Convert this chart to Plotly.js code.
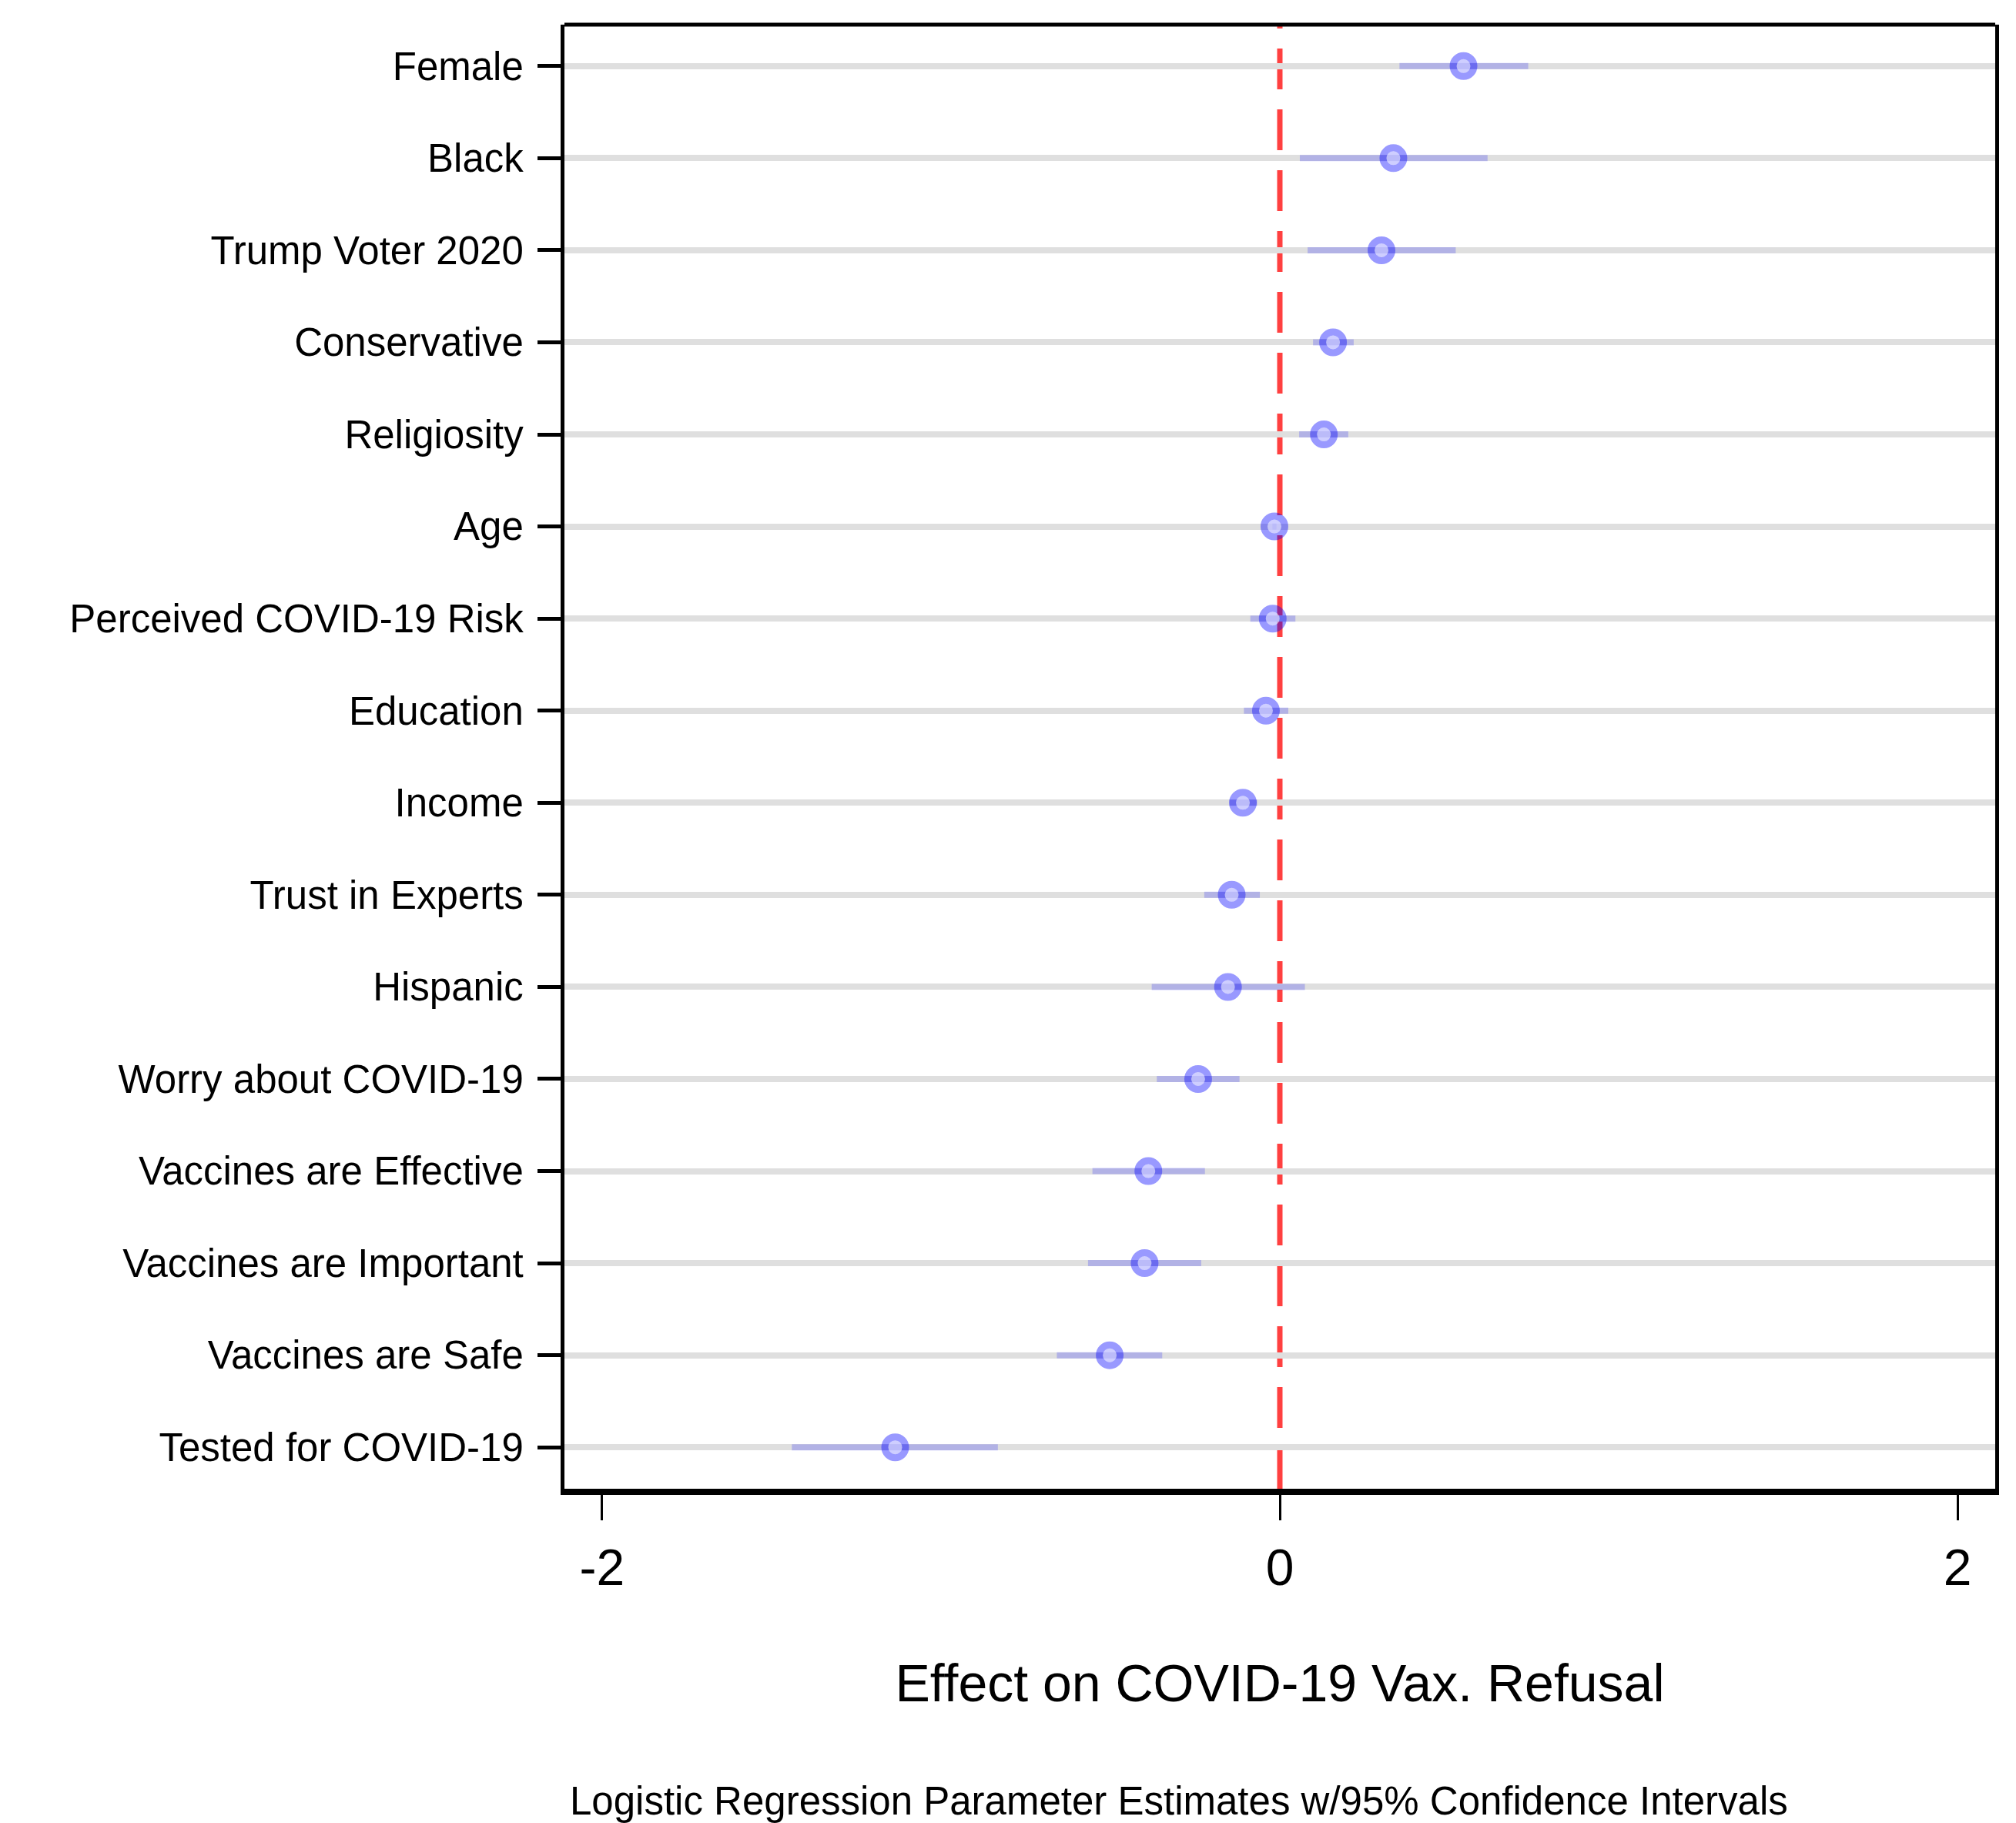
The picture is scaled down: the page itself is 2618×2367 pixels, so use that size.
<!DOCTYPE html>
<html>
<head>
<meta charset="utf-8">
<script src="https://cdn.plot.ly/plotly-3.0.1.min.js"></script>
<style>
  html, body { margin: 0; padding: 0; background: #ffffff; }
  #chart { width: 2618px; height: 2367px; }
</style>
</head>
<body>
<div id="chart"></div>
<script>
// ---- Data ----
const variables = [
  "Female", "Black", "Trump Voter 2020", "Conservative", "Religiosity", "Age",
  "Perceived COVID-19 Risk", "Education", "Income", "Trust in Experts", "Hispanic",
  "Worry about COVID-19", "Vaccines are Effective", "Vaccines are Important",
  "Vaccines are Safe", "Tested for COVID-19"
];
const estimates = [0.542, 0.335, 0.300, 0.157, 0.130, -0.016, -0.021, -0.041, -0.109, -0.142, -0.153, -0.241, -0.388, -0.399, -0.502, -1.135];
const ciLower   = [0.353, 0.059, 0.082, 0.098, 0.057, -0.022, -0.087, -0.106, -0.148, -0.223, -0.378, -0.363, -0.553, -0.566, -0.658, -1.440];
const ciUpper   = [0.733, 0.613, 0.519, 0.218, 0.202, -0.010, 0.046, 0.025, -0.067, -0.059, 0.074, -0.119, -0.221, -0.232, -0.347, -0.832];
const xTickVals = [-2, 0, 2];
const xTickText = ["-2", "0", "2"];
const xTitle = "Effect on COVID-19 Vax. Refusal";
const caption = "Logistic Regression Parameter Estimates w/95% Confidence Intervals";

const errPlus  = estimates.map((e, i) => ciUpper[i] - e);
const errMinus = estimates.map((e, i) => e - ciLower[i]);

const FONT = "Liberation Sans, Arial, Helvetica, sans-serif";

const ciTrace = {
  type: "scatter", mode: "markers",
  x: estimates, y: variables,
  marker: { symbol: "circle", size: 18, color: "rgba(190,190,255,0.75)", line: { width: 0 } },
  error_x: {
    type: "data", symmetric: false, array: errPlus, arrayminus: errMinus,
    color: "rgba(0,0,255,0.2)", thickness: 8, width: 0
  },
  hoverinfo: "skip", showlegend: false
};

const ringTrace = {
  type: "scatter", mode: "markers",
  x: estimates, y: variables,
  marker: {
    symbol: "circle-open", size: 27, color: "rgba(0,0,255,0.4)",
    line: { width: 9, color: "rgba(0,0,255,0.4)" }
  },
  hoverinfo: "skip", showlegend: false
};

const layout = {
  width: 2618, height: 2367,
  paper_bgcolor: "#ffffff", plot_bgcolor: "#ffffff",
  margin: { l: 733, r: 27, t: 32, b: 434, pad: 0 },
  font: { family: FONT, color: "#000000" },
  showlegend: false,
  xaxis: {
    range: [-2.111, 2.111],
    tickmode: "array", tickvals: xTickVals, ticktext: xTickText,
    ticks: "outside", ticklen: 33, tickwidth: 3, tickcolor: "#000000",
    tickfont: { family: FONT, size: 66, color: "#000000" },
    ticklabelstandoff: 5,
    showgrid: false, zeroline: false,
    showline: true, linewidth: 8, linecolor: "#000000", mirror: false,
    title: { text: xTitle, font: { family: FONT, size: 68, color: "#000000" }, standoff: 93 }
  },
  yaxis: {
    type: "category",
    categoryorder: "array", categoryarray: variables,
    range: [15.45, -0.45],
    ticks: "outside", ticklen: 30, tickwidth: 5, tickcolor: "#000000",
    tickfont: { family: FONT, size: 51, color: "#000000" },
    ticklabelstandoff: 8,
    showgrid: true, gridcolor: "#dfdfdf", gridwidth: 8,
    zeroline: false,
    showline: true, linewidth: 5, linecolor: "#000000", mirror: true
  },
  shapes: [
    {
      type: "line", xref: "x", yref: "paper", x0: 0, x1: 0, y0: 0, y1: 1,
      line: { color: "rgba(255,0,0,0.75)", width: 7, dash: "53px,26px" }, layer: "between"
    },
    {
      type: "line", xref: "paper", yref: "paper", x0: 0, x1: 1, y0: 1, y1: 1,
      line: { color: "#000000", width: 5 }, layer: "above", yshift: 2.5
    }
  ],
  annotations: [
    {
      text: caption, xref: "paper", yref: "paper", x: 0.4296, y: -0.2135,
      xanchor: "center", yanchor: "middle", showarrow: false,
      font: { family: FONT, size: 51, color: "#000000" }
    }
  ]
};

Plotly.newPlot("chart", [ciTrace, ringTrace], layout, { staticPlot: true, displayModeBar: false });
</script>
</body>
</html>
